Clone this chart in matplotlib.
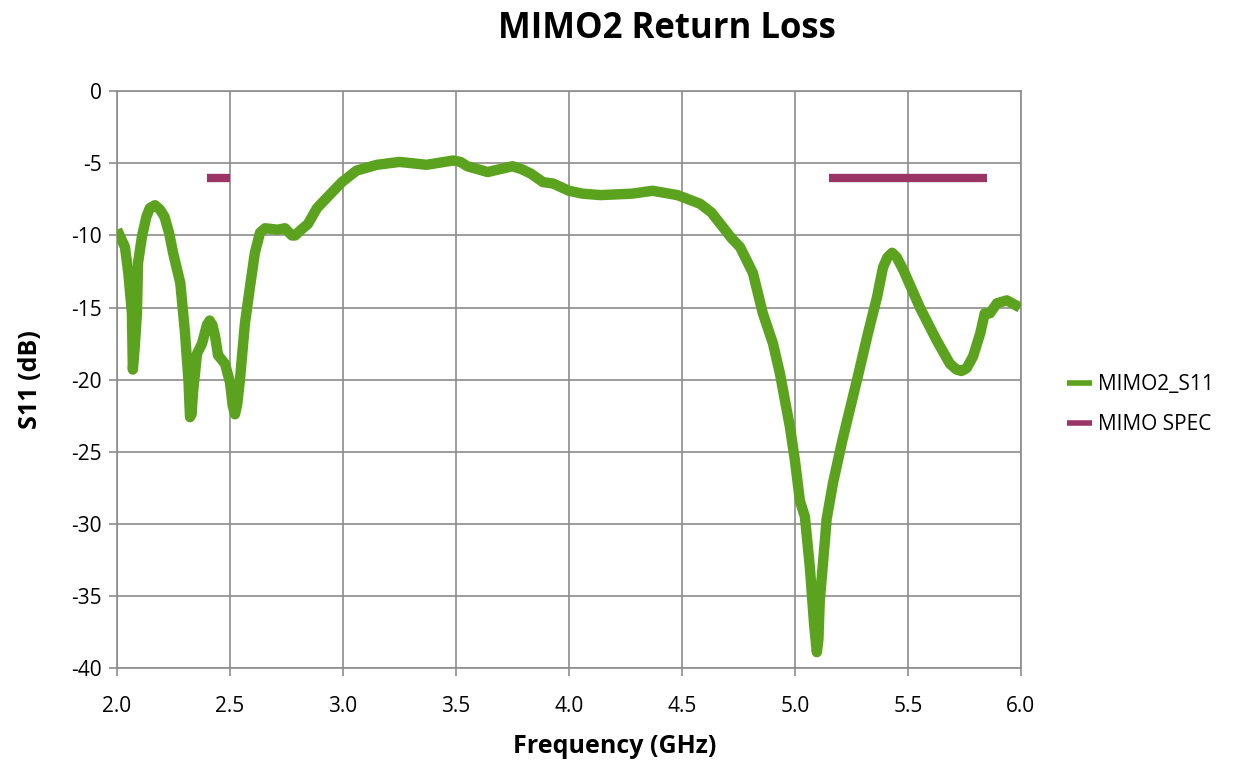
import matplotlib
matplotlib.use("Agg")
import matplotlib.pyplot as plt

freq = [2.0, 2.035, 2.05, 2.066, 2.07, 2.078, 2.088, 2.093, 2.11, 2.13, 2.145, 2.168, 2.19, 2.21,
        2.23, 2.248, 2.28, 2.30, 2.316, 2.323, 2.33, 2.336, 2.354, 2.376, 2.398, 2.41, 2.422,
        2.434, 2.447, 2.478, 2.50, 2.512, 2.522, 2.532, 2.544, 2.566, 2.588, 2.61, 2.633, 2.655,
        2.71, 2.743, 2.774, 2.788, 2.815, 2.845, 2.885, 2.94, 2.995, 3.06, 3.15, 3.25, 3.37,
        3.487, 3.52, 3.55, 3.64, 3.75, 3.79, 3.83, 3.885, 3.93, 4.0, 4.06, 4.14, 4.28, 4.37,
        4.48, 4.58, 4.63, 4.68, 4.72, 4.757, 4.814, 4.858, 4.903, 4.934, 4.978, 5.0, 5.022,
        5.044, 5.066, 5.085, 5.097, 5.104, 5.11, 5.133, 5.14, 5.168, 5.21, 5.275, 5.323, 5.363,
        5.39, 5.41, 5.43, 5.45, 5.48, 5.553, 5.628, 5.686, 5.715, 5.737, 5.76, 5.788, 5.82,
        5.84, 5.863, 5.894, 5.938, 5.996]
s11 = [-9.6, -10.8, -12.6, -15.4, -19.3, -17.8, -15.4, -11.9, -10.1, -8.7, -8.1, -7.9, -8.2, -8.7,
       -9.8, -11.2, -13.3, -16.6, -20.0, -22.6, -22.4, -20.9, -18.2, -17.5, -16.2, -15.9, -16.2,
       -17.0, -18.3, -18.9, -20.2, -21.8, -22.4, -21.7, -20.0, -16.1, -13.6, -11.2, -9.8, -9.5,
       -9.6, -9.5, -10.0, -10.0, -9.6, -9.2, -8.1, -7.2, -6.3, -5.5, -5.1, -4.9, -5.1,
       -4.8, -4.9, -5.2, -5.6, -5.2, -5.4, -5.7, -6.3, -6.4, -6.9, -7.1, -7.2, -7.1, -6.9,
       -7.2, -7.8, -8.4, -9.4, -10.2, -10.8, -12.6, -15.4, -17.5, -19.6, -23.3, -25.6, -28.4,
       -29.5, -33.0, -37.0, -38.9, -38.0, -35.3, -31.1, -29.7, -27.2, -24.2, -20.0, -16.8, -14.3,
       -12.2, -11.5, -11.2, -11.5, -12.4, -15.0, -17.3, -18.9, -19.3, -19.4, -19.2, -18.4, -16.8,
       -15.4, -15.4, -14.7, -14.5, -15.0]

spec_low_f = [2.4, 2.5]
spec_high_f = [5.15, 5.85]
spec_level = [-6, -6]

xticks = [2.0, 2.5, 3.0, 3.5, 4.0, 4.5, 5.0, 5.5, 6.0]
yticks = [0, -5, -10, -15, -20, -25, -30, -35, -40]

plt.rcParams['font.family'] = ['Open Sans', 'DejaVu Sans']

fig = plt.figure(figsize=(12.45, 7.67), dpi=100)
ax = fig.add_axes([0.094, 0.129, 0.726, 0.752])

green = '#5BA31E'
purple = '#9B3566'

ax.plot(freq, s11, color=green, lw=7.5, solid_capstyle='butt', solid_joinstyle='round',
        label='MIMO2_S11', zorder=3)
ax.plot(spec_low_f, spec_level, color=purple, lw=6, solid_capstyle='butt',
        label='MIMO SPEC', zorder=3)
ax.plot(spec_high_f, spec_level, color=purple, lw=6, solid_capstyle='butt', zorder=3)

ax.set_xlim(2.0, 6.0)
ax.set_ylim(-40, 0)
ax.set_xticks(xticks)
ax.set_xticklabels([f"{v:.1f}" for v in xticks])
ax.set_yticks(yticks)
ax.set_yticklabels([f"{v:g}" for v in yticks])
ax.grid(True, color='#8c8c8c', lw=1.2)
ax.set_axisbelow(True)
for s in ax.spines.values():
    s.set_color('#8c8c8c')
    s.set_linewidth(1.2)
ax.tick_params(axis='both', colors='#8c8c8c', length=6, width=1.2, labelsize=15,
               labelcolor='black')
ax.tick_params(axis='x', pad=14)
ax.tick_params(axis='y', pad=5)

ax.set_xlabel('Frequency (GHz)', fontsize=18, fontweight='bold', labelpad=12)
ax.xaxis.label.set_x(0.551)
ax.set_ylabel('S11 (dB)', fontsize=18, fontweight='bold', labelpad=20)
fig.text(0.536, 0.962, 'MIMO2 Return Loss', ha='center', va='center',
         fontsize=25, fontweight='bold')

leg = ax.legend(loc='center left', bbox_to_anchor=(1.03, 0.457), frameon=False,
                fontsize=15, handlelength=1.2, handletextpad=0.3, labelspacing=0.9)
for h in leg.get_lines():
    h.set_linewidth(4)

fig.savefig('out.png', dpi=100)
